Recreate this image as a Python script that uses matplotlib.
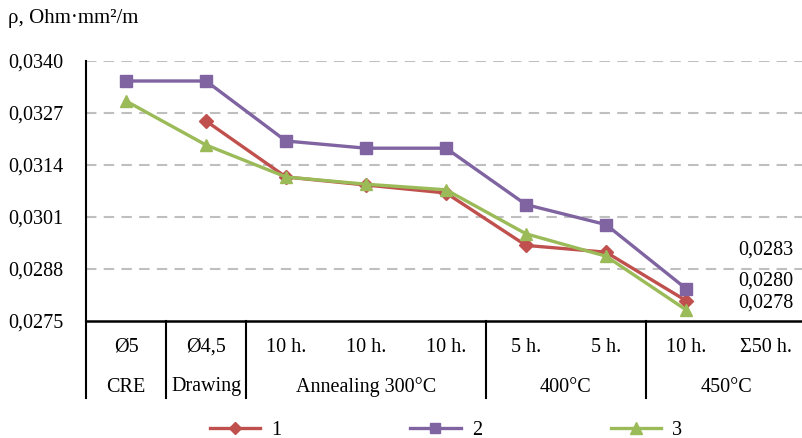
import numpy as np
import matplotlib
matplotlib.use("Agg")
import matplotlib.pyplot as plt
from matplotlib.transforms import blended_transform_factory
from matplotlib.lines import Line2D

plt.rcParams['font.family'] = ['Liberation Serif', 'DejaVu Serif']

categories = ["Ø5", "Ø4,5", "10 h.", "10 h.", "10 h.", "5 h.", "5 h.", "10 h.", "Σ50 h."]
groups = ["CRE", "Drawing", "Annealing 300°C", "400°C", "450°C"]
group_sizes = [1, 1, 3, 2, 2]

series_names = ["1", "2", "3"]
s1 = [np.nan, 0.03250, 0.03110, 0.03090, 0.03070, 0.02939, 0.02922, 0.02801, np.nan]
s2 = [0.03350, 0.03350, 0.03200, 0.03182, 0.03182, 0.03041, 0.02991, 0.02831, np.nan]
s3 = [0.03300, 0.03190, 0.03110, 0.03092, 0.03078, 0.02968, 0.02912, 0.02778, np.nan]
end_labels = ["0,0280", "0,0283", "0,0278"]

colors = ["#C0504D", "#8064A2", "#9BBB59"]
markers = ["D", "s", "^"]
msizes = [7, 8.5, 9]

FS = 14.5
W, H = 802, 438
fig = plt.figure(figsize=(W / 100, H / 100), dpi=100)
ax = fig.add_axes([86 / W, 1 - 321 / H, 720 / W, 260 / H])

x = np.arange(len(categories))
for vals, c, m, ms, name in zip([s1, s2, s3], colors, markers, msizes, series_names):
    ax.plot(x, vals, color=c, marker=m, markersize=ms, lw=2.4, label=name,
            markeredgecolor=c, clip_on=False, zorder=3)

ax.set_xlim(-0.5, len(categories) - 0.5)
ax.set_ylim(0.0275, 0.0340)
yt = np.round(np.arange(0.0275, 0.03401, 0.0013), 4)
ax.set_yticks(yt)
ax.set_yticklabels([f"{v:.4f}".replace('.', ',') for v in yt], fontsize=FS)
ax.tick_params(axis='y', length=0, pad=16)
ax.set_xticks([])
for v in yt[1:]:
    ax.axhline(v, color="#BFBFBF", lw=1.5, ls=(0, (5, 3.5)), zorder=1)

for s in ['top', 'right']:
    ax.spines[s].set_visible(False)
ax.spines['left'].set_color('black')
ax.spines['left'].set_linewidth(1.5)
ax.spines['bottom'].set_color('black')
ax.spines['bottom'].set_linewidth(1.8)

# data labels for last points
last_vals = [s1[7], s2[7], s3[7]]
offsets = [20, 39, 7]
for v, lab, off in zip(last_vals, end_labels, offsets):
    ax.annotate(lab, xy=(8, v), xytext=(0, off * 0.72), textcoords='offset points',
                ha='center', va='center', fontsize=FS)

# category axis
tr = blended_transform_factory(ax.transData, fig.transFigure)
y_row1 = 1 - 347 / H
y_row2 = 1 - 387 / H
y_top = 1 - 321 / H
y_bot = 1 - 398 / H
for i, lab in enumerate(categories):
    fig.text(i, y_row1, lab, transform=tr, ha='center', va='center', fontsize=FS)
start = -0.5
bounds = [start]
for g, n in zip(groups, group_sizes):
    center = start + n / 2
    fig.text(center, y_row2, g, transform=tr, ha='center', va='center', fontsize=FS)
    start += n
    bounds.append(start)
for b in bounds[:-1]:
    fig.add_artist(Line2D([b, b], [y_top, y_bot], transform=tr, color='black', lw=1.5))

fig.text(8 / W, 1 - 19 / H, "ρ, Ohm·mm²/m", ha='left', va='center', fontsize=15)

handles = [Line2D([0], [0], color=c, marker=m, markersize=ms * 0.9, lw=2.4)
           for c, m, ms in zip(colors, markers, msizes)]
fig.legend(handles, series_names, loc='center', bbox_to_anchor=(446 / W, 1 - 430 / H),
           ncol=3, frameon=False, fontsize=FS, handlelength=2.5, handletextpad=0.55,
           columnspacing=6.4)

fig.savefig("out.png", dpi=100)
